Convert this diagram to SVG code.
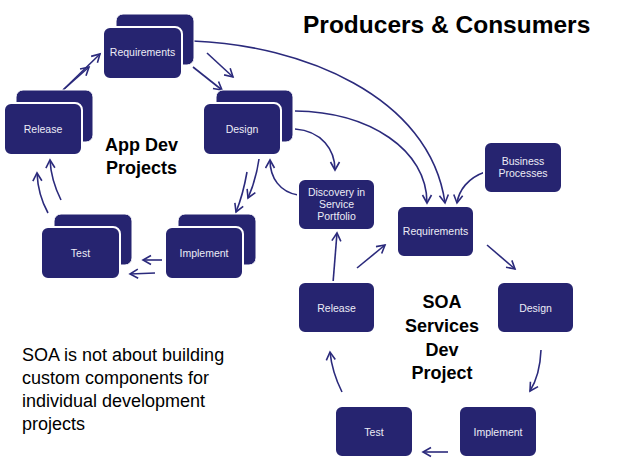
<svg xmlns="http://www.w3.org/2000/svg" width="643" height="461" viewBox="0 0 643 461">
<style>
.bk{fill:#262470;stroke:#ffffff;stroke-width:1}
.fr{fill:#262470;stroke:#ffffff;stroke-width:2}
.lb{font-family:"Liberation Sans",Arial,sans-serif;font-size:10.5px;fill:#ececf6;text-anchor:middle}
.hd{font-family:"Liberation Sans",Arial,sans-serif;font-weight:bold;font-size:18px;fill:#000;text-anchor:middle}
.cn path{fill:none;stroke:#2b2a7c;stroke-width:1.6;marker-end:url(#ah)}
</style>
<defs>
<marker id="ah" markerUnits="userSpaceOnUse" markerWidth="12" markerHeight="12" refX="9" refY="5.5" orient="auto">
<path d="M1,1 L9,5.5 L1,10" fill="none" stroke="#2b2a7c" stroke-width="1.6"/>
</marker>
</defs>
<rect width="643" height="461" fill="#ffffff"/>
<text x="303" y="33" font-family="'Liberation Sans',Arial,sans-serif" font-weight="bold" font-size="24.5" fill="#000">Producers &amp; Consumers</text>

<g class="cn">
<path d="M63,90 L100,54"/>
<path d="M63,90 L89,67"/>
<path d="M193,67 L222,90"/>
<path d="M207,53 L233,77"/>
<path d="M259,159 Q256,180 248,198"/>
<path d="M247,172 Q243,195 236,212"/>
<path d="M162,260 L143,260"/>
<path d="M155,273 L130,274"/>
<path d="M48,213 Q38,195 37,173"/>
<path d="M61,200 Q51,180 50,160"/>
<path d="M193,41 C300,45 430,95 445,203"/>
<path d="M295,111 C370,112 427,150 427,203"/>
<path d="M295,129 C322,131 335,150 335,170"/>
<path d="M485,172 C468,178 459,190 457,203"/>
<path d="M298,195 C280,192 270,178 270,160"/>
<path d="M333,283 L337,233"/>
<path d="M357,268 L385,245"/>
<path d="M487,245 L515,269"/>
<path d="M541,350 Q540,375 530,391"/>
<path d="M448,452 L423,452"/>
<path d="M342,392 Q332,372 330,352"/>
</g>

<g id="app-requirements">
<rect class="bk" x="116" y="14" width="78" height="51" rx="7"/>
<rect class="fr" x="103" y="27" width="79" height="52" rx="7"/>
<text class="lb" x="142.5" y="56">Requirements</text>
</g>
<g id="app-release">
<rect class="bk" x="16" y="90" width="77" height="52" rx="7"/>
<rect class="fr" x="4" y="103" width="78" height="52" rx="7"/>
<text class="lb" x="43" y="133">Release</text>
</g>
<g id="app-design">
<rect class="bk" x="216" y="90" width="77" height="52" rx="7"/>
<rect class="fr" x="203" y="103" width="78" height="52" rx="7"/>
<text class="lb" x="242" y="133">Design</text>
</g>
<g id="app-test">
<rect class="bk" x="54" y="214" width="78" height="51" rx="7"/>
<rect class="fr" x="41" y="227" width="79" height="52" rx="7"/>
<text class="lb" x="80.5" y="257">Test</text>
</g>
<g id="app-implement">
<rect class="bk" x="178" y="214" width="78" height="51" rx="7"/>
<rect class="fr" x="165" y="227" width="78" height="52" rx="7"/>
<text class="lb" x="204" y="257">Implement</text>
</g>
<g id="app-title">
<text class="hd" x="141.5" y="151">App Dev</text>
<text class="hd" x="141.5" y="174">Projects</text>
</g>

<g id="discovery">
<rect class="fr" x="298" y="179" width="77" height="51" rx="7"/>
<text class="lb" x="336.5" y="196">Discovery in</text>
<text class="lb" x="336.5" y="208">Service</text>
<text class="lb" x="336.5" y="220">Portfolio</text>
</g>
<g id="business-processes">
<rect class="fr" x="484" y="142" width="78" height="51" rx="7"/>
<text class="lb" x="523" y="165">Business</text>
<text class="lb" x="523" y="177">Processes</text>
</g>
<g id="soa-requirements">
<rect class="fr" x="397" y="206" width="77" height="51" rx="7"/>
<text class="lb" x="435.5" y="235">Requirements</text>
</g>
<g id="soa-release">
<rect class="fr" x="298" y="282" width="77" height="51" rx="7"/>
<text class="lb" x="336.5" y="312">Release</text>
</g>
<g id="soa-design">
<rect class="fr" x="497" y="282" width="77" height="51" rx="7"/>
<text class="lb" x="535.5" y="312">Design</text>
</g>
<g id="soa-test">
<rect class="fr" x="335" y="406" width="78" height="51" rx="7"/>
<text class="lb" x="374" y="436">Test</text>
</g>
<g id="soa-implement">
<rect class="fr" x="459" y="406" width="78" height="51" rx="7"/>
<text class="lb" x="498" y="436">Implement</text>
</g>
<g id="soa-title">
<text class="hd" x="442" y="308">SOA</text>
<text class="hd" x="442" y="332">Services</text>
<text class="hd" x="442" y="356">Dev</text>
<text class="hd" x="442" y="379">Project</text>
</g>

<g id="note" font-family="'Liberation Sans',Arial,sans-serif" font-size="18" fill="#000">
<text x="22" y="361">SOA is not about building</text>
<text x="22" y="384">custom components for</text>
<text x="22" y="407">individual development</text>
<text x="22" y="430">projects</text>
</g>
</svg>
